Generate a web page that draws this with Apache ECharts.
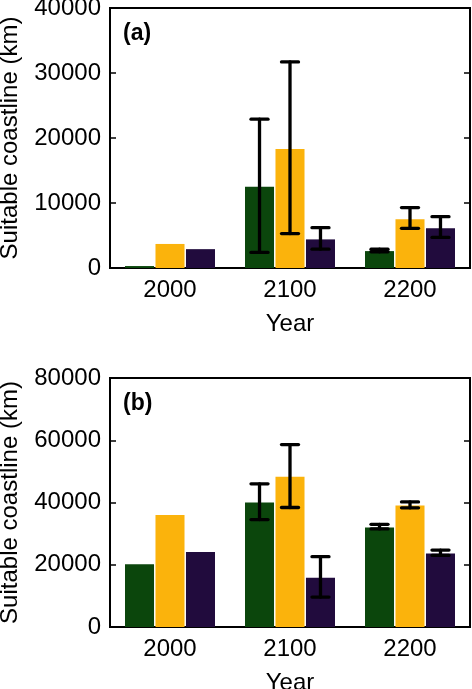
<!DOCTYPE html>
<html>
<head>
<meta charset="utf-8">
<script src="https://cdn.jsdelivr.net/npm/echarts@6/dist/echarts.min.js"></script>
<style>
html,body{margin:0;padding:0;background:#fff;}
#chart{width:472px;height:689px;}
</style>
</head>
<body>
<div id="chart"></div>
<script>
// ---- Data ----
const categories = ['2000', '2100', '2200'];
const seriesNames = ['Green', 'Yellow', 'Purple'];

// Panel (a)
const aGreen = [300, 12500, 2600];
const aGreenLo = [null, 2400, 2500];
const aGreenHi = [null, 22900, 2900];
const aYellow = [3700, 18300, 7500];
const aYellowLo = [null, 5300, 6100];
const aYellowHi = [null, 31700, 9300];
const aPurple = [2900, 4400, 6100];
const aPurpleLo = [null, 2900, 4700];
const aPurpleHi = [null, 6200, 7900];

// Panel (b)
const bGreen = [20200, 40000, 32000];
const bGreenLo = [null, 34500, 31500];
const bGreenHi = [null, 46000, 33000];
const bYellow = [36000, 48300, 39000];
const bYellowLo = [null, 38400, 38300];
const bYellowHi = [null, 58600, 40200];
const bPurple = [24100, 15800, 23600];
const bPurpleLo = [null, 9600, 23000];
const bPurpleHi = [null, 22600, 24700];

const aTicks = [0, 10000, 20000, 30000, 40000];
const bTicks = [0, 20000, 40000, 60000, 80000];

// ---- Style ----
const colors = ['#0b460c', '#fbb30c', '#210b3d'];
const FONT = '"Liberation Sans", Arial, Helvetica, sans-serif';
const BAR_CAT_GAP = 0.25, BAR_GAP = 0.05;

function errData(los, his) {
  const out = [];
  los.forEach((lo, k) => {
    lo.forEach((v, i) => {
      if (v != null && his[k][i] != null) out.push([i, v, his[k][i], k]);
    });
  });
  return out;
}

function renderErr(params, api) {
  const cat = api.value(0);
  const lo = api.coord([cat, api.value(1)]);
  const hi = api.coord([cat, api.value(2)]);
  const cw = api.size([1, 0])[0];
  const bw = cw * (1 - BAR_CAT_GAP) / (3 + 2 * BAR_GAP);
  const x = lo[0] + (api.value(3) - 1) * bw * (1 + BAR_GAP);
  const hc = 8.5;
  const st = { stroke: '#000', lineWidth: 3.3, lineCap: 'round' };
  return {
    type: 'group',
    children: [
      { type: 'line', shape: { x1: x, y1: lo[1], x2: x, y2: hi[1] }, style: st },
      { type: 'line', shape: { x1: x - hc, y1: lo[1], x2: x + hc, y2: lo[1] }, style: st },
      { type: 'line', shape: { x1: x - hc, y1: hi[1], x2: x + hc, y2: hi[1] }, style: st }
    ]
  };
}

function xAx(gi) {
  return {
    type: 'category', gridIndex: gi, data: categories,
    name: 'Year', nameLocation: 'middle', nameGap: 44,
    nameTextStyle: { fontSize: 24, color: '#000', fontFamily: FONT },
    axisLine: { lineStyle: { color: '#000', width: 2 } },
    axisTick: { show: false },
    axisLabel: { fontSize: 24, color: '#000', fontFamily: FONT, margin: 10 },
    splitLine: { show: false }
  };
}
function yAx(gi, ticks, right) {
  const iv = ticks[1] - ticks[0];
  return {
    type: 'value', gridIndex: gi, position: right ? 'right' : 'left',
    min: ticks[0], max: ticks[ticks.length - 1], interval: iv,
    name: right ? '' : 'Suitable coastline (km)', nameLocation: 'middle', nameGap: 88,
    nameTextStyle: { fontSize: 24, color: '#000', fontFamily: FONT },
    axisLine: { show: true, lineStyle: { color: '#000', width: 2 } },
    axisTick: { show: true, inside: true, length: 6, lineStyle: { color: '#000', width: 1.5 } },
    axisLabel: { show: !right, fontSize: 24, color: '#000', fontFamily: FONT, margin: 9,
      formatter: (v) => String(v) },
    splitLine: { show: false }
  };
}

function bars(gi, vals) {
  return vals.map((v, k) => ({
    type: 'bar', name: seriesNames[k], xAxisIndex: gi, yAxisIndex: gi * 2,
    data: v, barCategoryGap: (BAR_CAT_GAP * 100) + '%', barGap: (BAR_GAP * 100) + '%',
    itemStyle: { color: colors[k] }, silent: true
  }));
}

const gridBase = { left: 110, right: 2, show: true, borderColor: '#000', borderWidth: 2,
  backgroundColor: 'transparent', containLabel: false, outerBoundsMode: 'none' };

const option = {
  animation: false,
  backgroundColor: '#fff',
  textStyle: { fontFamily: FONT },
  title: [
    { text: '(a)', left: 118, top: 17, textStyle: { fontSize: 23, fontWeight: 'bold', color: '#000', fontFamily: FONT } },
    { text: '(b)', left: 118, top: 387, textStyle: { fontSize: 23, fontWeight: 'bold', color: '#000', fontFamily: FONT } }
  ],
  grid: [
    Object.assign({}, gridBase, { top: 8, height: 260 }),
    Object.assign({}, gridBase, { top: 378, height: 249 })
  ],
  xAxis: [xAx(0), xAx(1)],
  yAxis: [yAx(0, aTicks, false), yAx(0, aTicks, true), yAx(1, bTicks, false), yAx(1, bTicks, true)],
  series: [
    ...bars(0, [aGreen, aYellow, aPurple]),
    ...bars(1, [bGreen, bYellow, bPurple]),
    {
      type: 'custom', xAxisIndex: 0, yAxisIndex: 0, silent: true, z: 10,
      renderItem: renderErr,
      encode: { x: 0, y: [1, 2] },
      data: errData([aGreenLo, aYellowLo, aPurpleLo], [aGreenHi, aYellowHi, aPurpleHi])
    },
    {
      type: 'custom', xAxisIndex: 1, yAxisIndex: 2, silent: true, z: 10,
      renderItem: renderErr,
      encode: { x: 0, y: [1, 2] },
      data: errData([bGreenLo, bYellowLo, bPurpleLo], [bGreenHi, bYellowHi, bPurpleHi])
    }
  ]
};

const chart = echarts.init(document.getElementById('chart'), null, { renderer: 'canvas' });
chart.setOption(option);
</script>
</body>
</html>
